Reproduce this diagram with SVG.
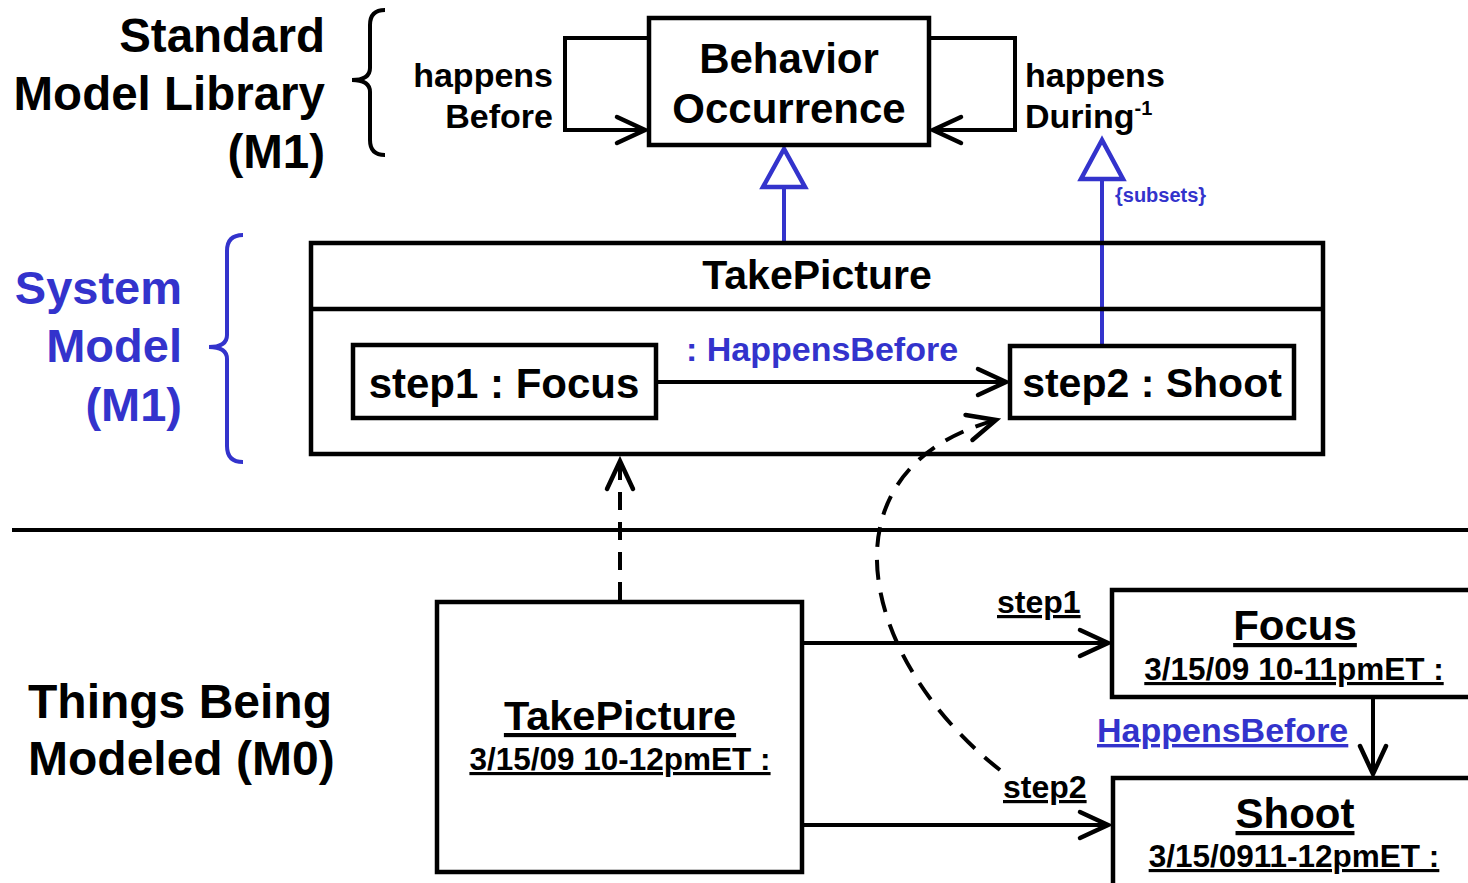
<svg xmlns="http://www.w3.org/2000/svg" width="1468" height="883" viewBox="0 0 1468 883">
<style>
text{font-family:"Liberation Sans",Arial,sans-serif;font-weight:bold;fill:#000}
.blue{fill:#3333CC}
.box{fill:#fff;stroke:#000;stroke-width:4.5}
.ln{fill:none;stroke:#000;stroke-width:4}
.bl{fill:none;stroke:#3333CC;stroke-width:4}
.u{text-decoration:underline}
</style>
<defs>
<marker id="open" markerUnits="userSpaceOnUse" markerWidth="40" markerHeight="40" viewBox="-32 -20 40 40" refX="0" refY="0" orient="auto">
<path d="M-28,-13 L0,0 L-28,13" fill="none" stroke="#000" stroke-width="4.5" stroke-linecap="round" stroke-linejoin="miter"/>
</marker>
</defs>
<rect width="1468" height="883" fill="#fff"/>

<g id="labels-left">
<text x="325" y="52" font-size="47.5" text-anchor="end">Standard</text>
<text x="325" y="110" font-size="47.5" text-anchor="end">Model Library</text>
<text x="325" y="168" font-size="47.5" text-anchor="end">(M1)</text>
<path class="ln" d="M385,10 Q370,10 370,25 L370,68 Q370,80 352,80 Q370,80 370,92 L370,140 Q370,155 385,155" stroke-width="3.5"/>
<text class="blue" x="182" y="304" font-size="47" text-anchor="end">System</text>
<text class="blue" x="182" y="362" font-size="47" text-anchor="end">Model</text>
<text class="blue" x="182" y="421" font-size="47" text-anchor="end">(M1)</text>
<path class="bl" d="M243,235 Q227,235 227,251 L227,335 Q227,347 209,347 Q227,347 227,359 L227,446 Q227,462 243,462"/>
<text x="28" y="718" font-size="48">Things Being</text>
<text x="28" y="775" font-size="48">Modeled (M0)</text>
</g>

<line x1="12" y1="530" x2="1468" y2="530" stroke="#000" stroke-width="4"/>

<g id="connectors">
<path class="ln" d="M649,38 L565,38 L565,130 L645,130" marker-end="url(#open)"/>
<path class="ln" d="M929,38 L1015,38 L1015,130 L933,130" marker-end="url(#open)"/>
<text x="553" y="87" font-size="34" text-anchor="end">happens</text>
<text x="553" y="128" font-size="34" text-anchor="end">Before</text>
<text x="1025" y="87" font-size="34">happens</text>
<text x="1025" y="128" font-size="34">During<tspan font-size="20" dy="-13">-1</tspan></text>

<line class="bl" x1="784" y1="187" x2="784" y2="243"/>
<path d="M784,149 L763,187 L805,187 Z" fill="#fff" stroke="#3333CC" stroke-width="4.5" stroke-linejoin="miter"/>
<line class="bl" x1="1102" y1="179" x2="1102" y2="345"/>
<path d="M1102,140 L1081,179 L1123,179 Z" fill="#fff" stroke="#3333CC" stroke-width="4.5" stroke-linejoin="miter"/>
<text class="blue" x="1115" y="202" font-size="20">{subsets}</text>

<line class="ln" x1="656" y1="382" x2="1006" y2="382" marker-end="url(#open)"/>
<text class="blue" x="686" y="361" font-size="34">: HappensBefore</text>

<line class="ln" x1="620" y1="600" x2="620" y2="461" stroke-dasharray="18,12" marker-end="url(#open)"/>
<path class="ln" d="M1000,770 C860,660 815,470 996,420" stroke-dasharray="20,13" marker-end="url(#open)"/>

<line class="ln" x1="802" y1="643" x2="1108" y2="643" marker-end="url(#open)"/>
<text class="u" x="997" y="613" font-size="32">step1</text>
<line class="ln" x1="802" y1="825" x2="1108" y2="825" marker-end="url(#open)"/>
<text class="u" x="1003" y="798" font-size="32">step2</text>
<line class="ln" x1="1373" y1="697" x2="1373" y2="774" marker-end="url(#open)"/>
<text class="blue u" x="1097" y="742" font-size="34">HappensBefore</text>
</g>

<g id="behavior-occurrence">
<rect class="box" x="649" y="18" width="280" height="127"/>
<text x="789" y="73" font-size="42" text-anchor="middle">Behavior</text>
<text x="789" y="123" font-size="42" text-anchor="middle">Occurrence</text>
</g>

<g id="takepicture-m1">
<rect x="311" y="243" width="1012" height="211" fill="none" stroke="#000" stroke-width="4.5"/>
<line x1="311" y1="309" x2="1323" y2="309" stroke="#000" stroke-width="4.5"/>
<text x="817" y="289" font-size="41" text-anchor="middle">TakePicture</text>
</g>

<g id="step1">
<rect class="box" x="353" y="345" width="303" height="73"/>
<text x="504" y="398" font-size="42" text-anchor="middle">step1 : Focus</text>
</g>

<g id="step2">
<rect class="box" x="1010" y="346" width="284" height="72"/>
<text x="1152" y="397" font-size="41" text-anchor="middle">step2 : Shoot</text>
</g>

<g id="takepicture-m0">
<rect class="box" x="437" y="602" width="365" height="270"/>
<text class="u" x="620" y="730" font-size="41.5" text-anchor="middle">TakePicture</text>
<text class="u" x="620" y="770" font-size="31.5" text-anchor="middle">3/15/09 10-12pmET :</text>
</g>

<g id="focus-m0">
<rect class="box" x="1112" y="590" width="370" height="107"/>
<text class="u" x="1295" y="640" font-size="42" text-anchor="middle">Focus</text>
<text class="u" x="1294" y="680" font-size="31.5" text-anchor="middle">3/15/09 10-11pmET :</text>
</g>

<g id="shoot-m0">
<rect class="box" x="1113" y="778" width="370" height="120"/>
<text class="u" x="1295" y="828" font-size="42" text-anchor="middle">Shoot</text>
<text class="u" x="1294" y="867" font-size="31.5" text-anchor="middle">3/15/0911-12pmET :</text>
</g>
</svg>
